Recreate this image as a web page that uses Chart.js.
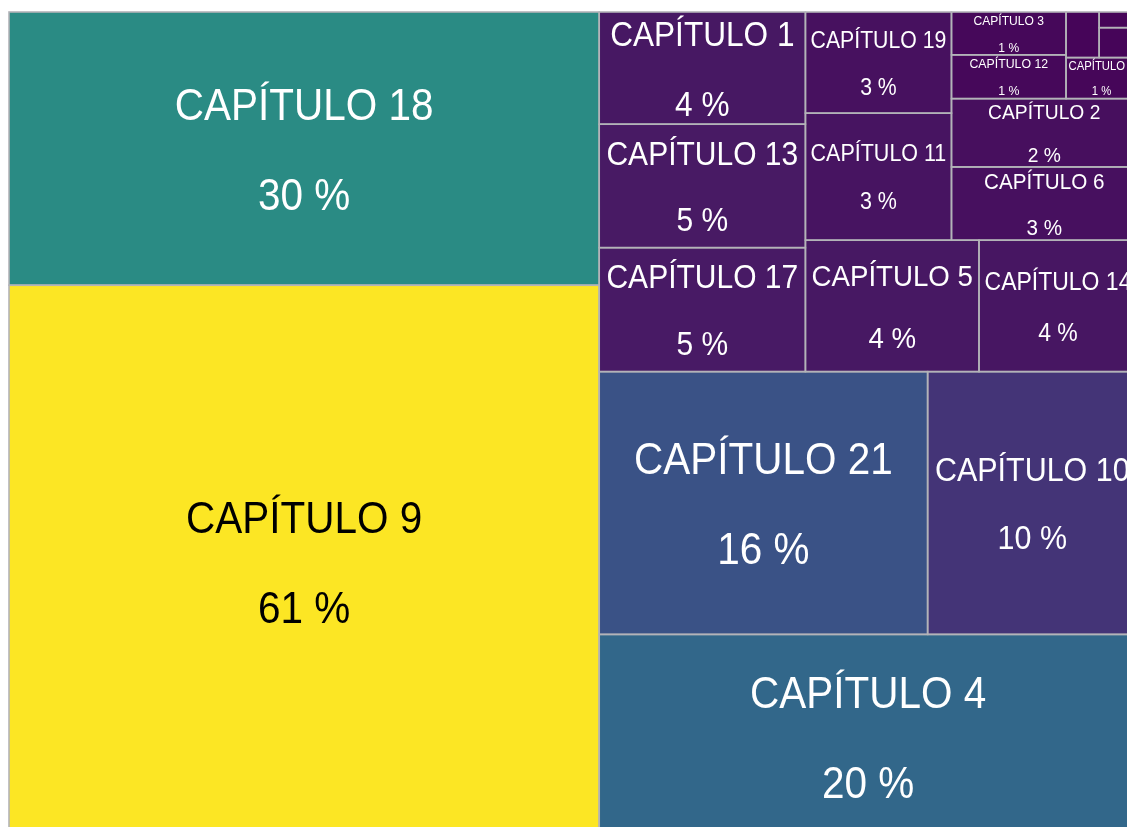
<!DOCTYPE html>
<html>
<head>
<meta charset="utf-8">
<title>Capítulos</title>
<script src="https://cdn.jsdelivr.net/npm/chart.js@4.4.1/dist/chart.umd.min.js"></script>
<style>
  html, body { margin: 0; padding: 0; background: #fff; overflow: hidden; width: 1127px; height: 827px; }
  #wrap { position: absolute; left: 8px; top: 11px; width: 1130px; height: 829px; }
</style>
</head>
<body>
<div id="wrap"><canvas id="chart"></canvas></div>
<script>
// ========== DATA ==========
// sorted from largest to smallest, same order the cells are laid out
const chapters = [
  'CAPÍTULO 9', 'CAPÍTULO 18', 'CAPÍTULO 4', 'CAPÍTULO 21', 'CAPÍTULO 10',
  'CAPÍTULO 17', 'CAPÍTULO 13', 'CAPÍTULO 1', 'CAPÍTULO 5', 'CAPÍTULO 14',
  'CAPÍTULO 11', 'CAPÍTULO 19', 'CAPÍTULO 6', 'CAPÍTULO 2', 'CAPÍTULO 12',
  'CAPÍTULO 3', 'CAPÍTULO 7', 'CAPÍTULO 8', 'CAPÍTULO 20', 'CAPÍTULO 16'
];
const values = [
  60.6, 29.9, 20.4, 16.0, 10.2,
  4.74, 4.72, 4.29, 4.23, 3.85,
  3.44, 2.74, 2.52, 2.35, 0.93,
  0.91, 0.54, 0.28, 0.21, 0.11
];

// rows of the treemap: how many cells each row takes and where it sits in the free space
const rowCounts = [2, 1, 2, 3, 2, 2, 1, 1, 2, 1, 1, 1, 1];
const rowSides = ['left', 'bottom', 'bottom', 'left', 'bottom', 'left', 'bottom', 'bottom', 'left', 'bottom', 'left', 'bottom', 'bottom'];

// ========== LAYOUT ==========
function layoutRows(vals, counts, sides) {
  let x0 = 0, y0 = 0, x1 = 1, y1 = 1;
  let rest = vals.reduce((a, b) => a + b, 0);
  const cells = [];
  let i = 0;
  counts.forEach((n, r) => {
    const group = vals.slice(i, i + n);
    const sum = group.reduce((a, b) => a + b, 0);
    if (sides[r] === 'left') {
      const w = (x1 - x0) * sum / rest;
      let y = y0;
      group.forEach((v, k) => {
        const h = (y1 - y0) * v / sum;
        cells.push({ index: i + k, x0: x0, x1: x0 + w, y0: y, y1: y + h });
        y += h;
      });
      x0 += w;
    } else {
      const h = (y1 - y0) * sum / rest;
      let x = x0;
      group.forEach((v, k) => {
        const w = (x1 - x0) * v / sum;
        cells.push({ index: i + k, x0: x, x1: x + w, y0: y0, y1: y0 + h });
        x += w;
      });
      y0 += h;
    }
    rest -= sum;
    i += n;
  });
  return cells;
}

const cells = layoutRows(values, rowCounts, rowSides);

// ========== COLOURS ==========
const VIRIDIS = [
  [70, 4, 88], [72, 32, 104], [66, 62, 126], [54, 94, 138], [44, 118, 138],
  [42, 140, 132], [40, 165, 128], [68, 191, 112], [122, 209, 81], [189, 223, 38], [252, 230, 36]
];

function viridis(t) {
  t = Math.max(0, Math.min(1, t));
  const p = t * (VIRIDIS.length - 1);
  const i = Math.min(Math.floor(p), VIRIDIS.length - 2);
  const f = p - i;
  const a = VIRIDIS[i], b = VIRIDIS[i + 1];
  return [0, 1, 2].map(k => Math.round(a[k] + (b[k] - a[k]) * f));
}

const maxValue = Math.max(...values);
const TEXT_SQUEEZE = 0.92;
const FONT = '"Liberation Sans", Arial, sans-serif';

// ========== PLUGIN ==========
const treemapPlugin = {
  id: 'treemapCells',
  afterDatasetsDraw(chart) {
    const ctx = chart.ctx;
    const xs = chart.scales.x, ys = chart.scales.y;
    const boxes = cells.map(c => {
      const left = xs.getPixelForValue(c.x0), right = xs.getPixelForValue(c.x1);
      const top = ys.getPixelForValue(c.y1), bottom = ys.getPixelForValue(c.y0);
      return { i: c.index, left, top, w: right - left, h: bottom - top };
    });
    ctx.save();
    boxes.forEach(b => {
      const rgb = viridis(values[b.i] / maxValue);
      ctx.fillStyle = 'rgb(' + rgb.join(',') + ')';
      ctx.fillRect(b.left, b.top, b.w, b.h);
    });
    ctx.strokeStyle = '#b3b3b8';
    ctx.lineWidth = 1.6;
    boxes.forEach(b => ctx.strokeRect(b.left, b.top, b.w, b.h));

    ctx.textAlign = 'center';
    ctx.textBaseline = 'alphabetic';
    boxes.forEach(b => {
      const name = chapters[b.i];
      ctx.font = '100px ' + FONT;
      const unitW = ctx.measureText(name).width / 100;
      // fs = visible width-equivalent size, real font is taller and squeezed
      const fs = Math.min(40.5, 0.93 * b.w / unitW, b.h / 3.55);
      if (fs < 7) return;
      const real = fs / TEXT_SQUEEZE;
      const rgb = viridis(values[b.i] / maxValue);
      const lum = 0.299 * rgb[0] + 0.587 * rgb[1] + 0.114 * rgb[2];
      ctx.fillStyle = lum > 150 ? '#000' : '#fff';
      ctx.font = real + 'px ' + FONT;
      const cx = b.left + b.w / 2, cy = b.top + b.h / 2;
      const lines = [[name, cy - 1.1 * fs], [Math.round(values[b.i]) + ' %', cy + 1.12 * fs]];
      lines.forEach(([txt, y]) => {
        ctx.save();
        ctx.translate(cx, y + 0.36 * real);
        ctx.scale(TEXT_SQUEEZE, 1);
        ctx.fillText(txt, 0, 0);
        ctx.restore();
      });
    });
    ctx.restore();
  }
};

// ========== CHART ==========
new Chart(document.getElementById('chart'), {
  type: 'scatter',
  data: {
    datasets: [{
      label: 'Capítulos',
      data: cells.map(c => ({ x: (c.x0 + c.x1) / 2, y: (c.y0 + c.y1) / 2 })),
      pointRadius: 0,
      pointHoverRadius: 0
    }]
  },
  options: {
    responsive: true,
    maintainAspectRatio: false,
    animation: false,
    layout: { padding: 1 },
    scales: {
      x: { type: 'linear', min: 0, max: 1, display: false },
      y: { type: 'linear', min: 0, max: 1, display: false }
    },
    plugins: { legend: { display: false }, tooltip: { enabled: false } }
  },
  plugins: [treemapPlugin]
});
</script>
</body>
</html>
